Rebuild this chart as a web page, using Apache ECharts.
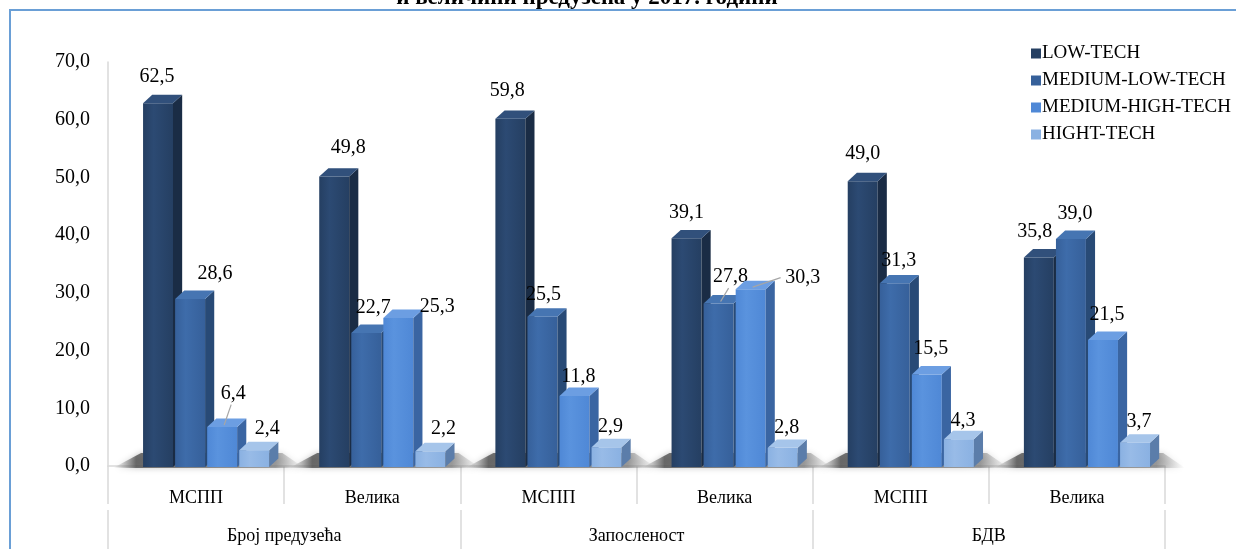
<!DOCTYPE html>
<html>
<head>
<meta charset="utf-8">
<script src="https://cdn.jsdelivr.net/npm/echarts@6/dist/echarts.min.js"></script>
<style>
html,body{margin:0;padding:0;background:#fff;}
#c{width:1236px;height:549px;}
</style>
</head>
<body>
<div id="c"></div>
<script>
// ---- data ----
const categories = ['МСПП', 'Велика', 'МСПП', 'Велика', 'МСПП', 'Велика'];
const groups = ['Број предузећа', 'Запосленост', 'БДВ'];
const seriesNames = ['LOW-TECH', 'MEDIUM-LOW-TECH', 'MEDIUM-HIGH-TECH', 'HIGHT-TECH'];
const lowTech = [62.5, 49.8, 59.8, 39.1, 49.0, 35.8];
const mediumLowTech = [28.6, 22.7, 25.5, 27.8, 31.3, 39.0];
const mediumHighTech = [6.4, 25.3, 11.8, 30.3, 15.5, 21.5];
const highTech = [2.4, 2.2, 2.9, 2.8, 4.3, 3.7];
const yMin = 0, yMax = 70, yStep = 10;
const titleText = 'и величини предузећа у 2017. години';

// ---- styles (not data) ----
const palette = [
  {front: '#253F62', light: '#2C4A73', side: '#1A2C45', top: '#31507B'},
  {front: '#36609A', light: '#3E6CAA', side: '#284A76', top: '#4675B2'},
  {front: '#4F88D6', light: '#5A93DE', side: '#3A65A2', top: '#6C9EE2'},
  {front: '#8AB1E2', light: '#98BBE7', side: '#5B7DAA', top: '#A6C5EA'}
];
// label nudges [dx, dy] per series per category
const labelNudge = [
  [[-5,-1],[10,-3],[-7,-3],[-4,0],[-4,-2],[-8,0]],
  [[21,0],[3,0],[-3,3],[8,-1],[0,3],[0,0]],
  [[7,-8],[35,14],[0,6],[48,14],[0,0],[0,0]],
  [[9,4],[9,3],[0,5],[0,5],[0,7],[0,5]]
];
// leader lines: [series, category]
const leaders = [[2,0],[1,3],[2,3]];

const allSeries = [lowTech, mediumLowTech, mediumHighTech, highTech];
const fmt = v => v.toFixed(1).replace('.', ',');
const FONT = '"Liberation Serif", "Times New Roman", serif';

function geom(api, si) {
  const ci = api.value(0), v = api.value(1);
  const base = api.coord([ci, 0]);
  const top = api.coord([ci, v]);
  const bw = api.size([1, 0])[0];
  const w = bw * 0.17, gap = bw * 0.182;
  const x0 = base[0] - bw * 0.301 + gap * si;
  const y0 = base[1] + 1, y1 = top[1] - 2;
  const dx = bw * 0.052, dy = -bw * 0.048;
  return {ci, v, bw, w, gap, x0, y0, y1, dx, dy};
}

function barRenderer(si) {
  const p = palette[si];
  return function (params, api) {
    const g = geom(api, si);
    const {x0, y0, y1, w, dx, dy, ci, v} = g;
    const children = [];
    children.push({
      type: 'rect', shape: {x: x0, y: y1, width: w, height: y0 - y1},
      style: {fill: new echarts.graphic.LinearGradient(0, 0, 1, 0, [
        {offset: 0, color: p.front}, {offset: 0.35, color: p.light}, {offset: 1, color: p.front}])}
    });
    children.push({
      type: 'polygon', shape: {points: [[x0 + w, y0], [x0 + w, y1], [x0 + w + dx, y1 + dy], [x0 + w + dx, y0 + dy]]},
      style: {fill: p.side}
    });
    children.push({
      type: 'polygon', shape: {points: [[x0, y1], [x0 + w, y1], [x0 + w + dx, y1 + dy], [x0 + dx, y1 + dy]]},
      style: {fill: p.top}
    });
    const nd = labelNudge[si][ci];
    const lx = x0 + w / 2 + 4 + nd[0];
    const ly = y1 + dy - 17 + nd[1];
    const isLeader = leaders.some(l => l[0] === si && l[1] === ci);
    if (isLeader) {
      let sx, sy;
      if (si === 2 && ci === 3) { sx = lx - 22; sy = ly; }
      else { sx = lx - 2; sy = ly + 11; }
      children.push({
        type: 'line', shape: {x1: sx, y1: sy, x2: x0 + w / 2 + 2, y2: y1 - 2},
        style: {stroke: '#a6a6a6', lineWidth: 1.2}
      });
    }
    children.push({
      type: 'text', style: {x: lx, y: ly, text: fmt(v), align: 'center', verticalAlign: 'middle',
        fill: '#000', font: '20px ' + FONT}
    });
    return {type: 'group', children};
  };
}

function shadowRenderer(params, api) {
  const g = geom(api, 0);
  const left = g.x0, right = g.x0 + g.gap * 3 + g.w + g.dx;
  const fy = g.y0;
  return {
    type: 'polygon',
    shape: {points: [[left - 30, fy + 1], [left - 2, fy - 14], [right + 4, fy - 14], [right + 26, fy + 1]]},
    style: {fill: new echarts.graphic.LinearGradient(0, 0, 1, 0, [
      {offset: 0, color: 'rgba(150,150,150,0)'},
      {offset: 0.12, color: 'rgba(70,70,70,0.75)'},
      {offset: 0.85, color: 'rgba(110,110,110,0.6)'},
      {offset: 1, color: 'rgba(170,170,170,0)'}]),
      shadowBlur: 6, shadowColor: 'rgba(0,0,0,0.3)'}
  };
}

const series = [{
  type: 'custom', name: '_shadow', renderItem: shadowRenderer, silent: true,
  data: categories.map((c, i) => [i, 0]), encode: {x: 0, y: 1}, z: 1
}];
allSeries.forEach((arr, si) => {
  series.push({
    type: 'custom', name: seriesNames[si], renderItem: barRenderer(si),
    itemStyle: {color: palette[si].front},
    data: arr.map((v, i) => [i, v]), encode: {x: 0, y: 1}, z: 2 + si
  });
});

const chart = echarts.init(document.getElementById('c'), null, {renderer: 'canvas'});
chart.setOption({
  backgroundColor: '#fff',
  animation: false,
  textStyle: {fontFamily: FONT},
  graphic: [
    {type: 'rect', shape: {x: 10, y: 10, width: 1400, height: 800},
      style: {fill: 'none', stroke: '#6A9FD6', lineWidth: 2}, z: 0, silent: true},
    {type: 'text', style: {x: 587, y: 10, text: titleText, align: 'center', verticalAlign: 'bottom',
      font: 'bold 23px ' + FONT, fill: '#000'}, z: 10}
  ],
  legend: {
    data: seriesNames, orient: 'vertical', left: 1026, top: 39,
    itemWidth: 10, itemHeight: 10, itemGap: 8, icon: 'rect',
    textStyle: {fontSize: 19, fontFamily: FONT, color: '#000', padding: [0, 0, 0, -4]}
  },
  grid: {left: 108, right: 71, top: 62, bottom: 83, containLabel: false},
  xAxis: [{
    type: 'category', data: categories, position: 'bottom', offset: 6,
    axisLine: {show: true, lineStyle: {color: '#d9d9d9', width: 1.5}},
    axisTick: {show: true, length: 38, interval: 0, lineStyle: {color: '#d9d9d9', width: 1.5}},
    axisLabel: {margin: 17, fontSize: 18, color: '#000', fontFamily: FONT, interval: 0},
    splitLine: {show: false}
  }, {
    type: 'category', data: groups, position: 'bottom', offset: 44,
    axisLine: {show: false},
    axisTick: {show: true, length: 40, interval: 0, lineStyle: {color: '#d9d9d9', width: 1.5}},
    axisLabel: {margin: 17, fontSize: 18, color: '#000', fontFamily: FONT, interval: 0},
    splitLine: {show: false}
  }],
  yAxis: {
    type: 'value', min: yMin, max: yMax, interval: yStep,
    axisLine: {show: true, lineStyle: {color: '#d9d9d9', width: 1.5}},
    axisTick: {show: false},
    splitLine: {show: false},
    axisLabel: {margin: 18, fontSize: 20, color: '#000', fontFamily: FONT, formatter: v => fmt(v)}
  },
  series
});
</script>
</body>
</html>
